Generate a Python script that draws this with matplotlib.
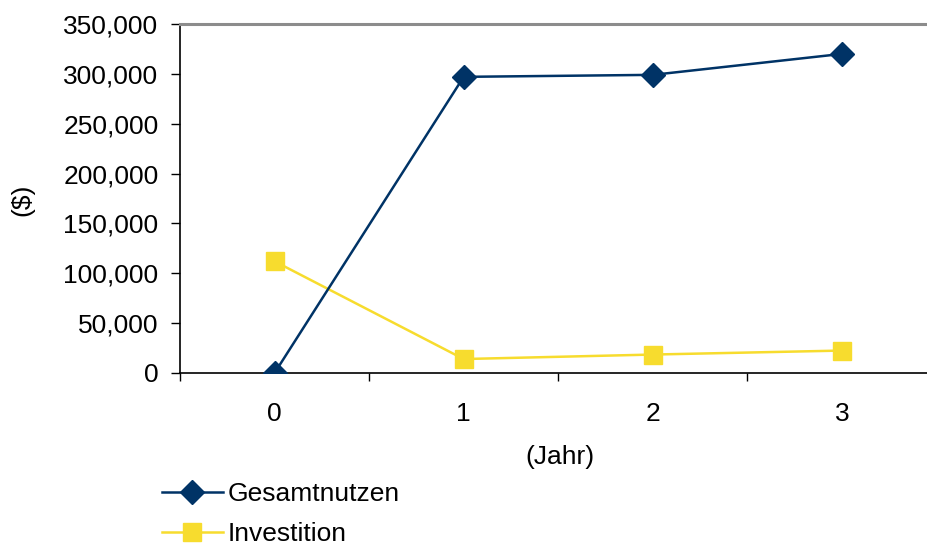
import matplotlib.pyplot as plt
from matplotlib.ticker import FuncFormatter, FixedLocator

plt.rcParams['font.family'] = ['Liberation Sans', 'DejaVu Sans']

jahre = [0, 1, 2, 3]
jahr_labels = ['0', '1', '2', '3']
gesamtnutzen = [0, 297000, 299000, 320000]
investition = [112000, 14000, 18500, 22500]

fig = plt.figure(figsize=(9.27, 5.46), dpi=100)
ax = fig.add_axes([180/927, 1-373/546, 1-180/927, (373-24)/546])

ax.plot(jahre, gesamtnutzen, '-D', color='#003366', lw=1.8, ms=12.5,
        label='Gesamtnutzen', zorder=3)
ax.plot(jahre, investition, '-s', color='#F7DC2E', lw=1.8, ms=13,
        label='Investition', zorder=2)

ax.set_ylim(0, 350000)
ax.set_xlim(-0.5, 3.45)
ax.set_yticks(range(0, 350001, 50000))
ax.yaxis.set_major_formatter(FuncFormatter(lambda v, p: '{:,.0f}'.format(v)))
ax.set_xticks(jahre)
ax.set_xticklabels(jahr_labels)
ax.xaxis.set_minor_locator(FixedLocator([-0.5, 0.5, 1.5, 2.5]))
ax.tick_params(axis='x', which='major', length=0, pad=21, labelsize=19)
ax.tick_params(axis='x', which='minor', length=6, width=1, color='black')
ax.tick_params(axis='y', length=6.5, width=1, labelsize=19, pad=9)

ax.spines['top'].set_color('#8c8c8c')
ax.spines['top'].set_linewidth(2.2)
ax.spines['right'].set_visible(False)
for s in ['left', 'bottom']:
    ax.spines[s].set_color('black')
    ax.spines[s].set_linewidth(1.2)

fig.text(560/927, 1-457/546, '(Jahr)', ha='center', va='center', fontsize=19)
fig.text(22/927, 1-200/546, '($)', ha='center', va='center', rotation=90, fontsize=19)

fig.legend(loc='upper left', bbox_to_anchor=(162/927, 1-482/546), frameon=False,
           fontsize=19, handlelength=2.3, handletextpad=0.17, labelspacing=0.62,
           borderpad=0, borderaxespad=0)

plt.savefig('out.png', dpi=100)
